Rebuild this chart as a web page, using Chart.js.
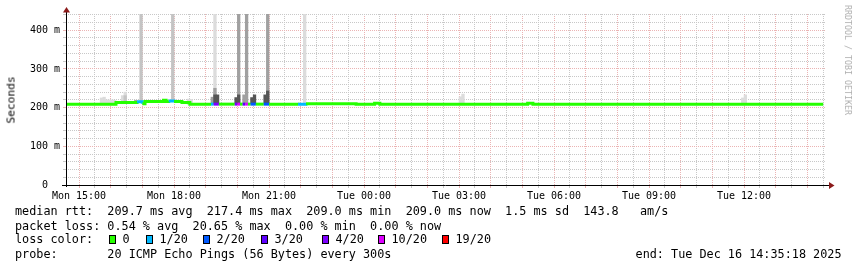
<!DOCTYPE html>
<html><head><meta charset="utf-8"><title>SmokePing latency</title>
<script src="https://cdn.jsdelivr.net/npm/chart.js@4.4.1/dist/chart.umd.min.js"></script>
<style>
html,body{margin:0;padding:0;background:#fff;overflow:hidden}
#wrap{position:relative;width:857px;height:267px;background:#fff}
#c{position:absolute;left:0;top:0}
.mono{position:absolute;font-family:"DejaVu Sans Mono",monospace;white-space:pre;color:#000;line-height:14px;font-size:11.8px}
.sq{position:absolute;top:235px;width:7px;height:9px;box-sizing:border-box;border:1px solid #000}
#ylab{position:absolute;left:11px;top:100px;transform:translate(-50%,-50%) rotate(-90deg);font-family:"DejaVu Sans Mono",monospace;font-size:11.2px;white-space:nowrap;color:#000}
#wm{position:absolute;left:848px;top:60px;transform:translate(-50%,-50%) rotate(90deg);font-family:"DejaVu Sans Mono",monospace;font-size:8.3px;white-space:nowrap;color:#b0b0b0}
</style></head>
<body><div id="wrap"><canvas id="c" width="857" height="267"></canvas>
<div id="ylab">Seconds</div><div id="wm">RRDTOOL / TOBI OETIKER</div>
<div id="legend"></div></div>
<script>
// ---------------- DATA ----------------
// time in minutes since Mon 00:00; one RRD step = 5 min
const startMin = 875.3;   // Mon 14:35:18
const endMin = 2315.3;    // Tue 14:35:18
const stepMin = 5;

const xLabelMinutes = [900, 1080, 1260, 1440, 1620, 1800, 1980, 2160];
const xLabels = ["Mon 15:00", "Mon 18:00", "Mon 21:00", "Tue 00:00", "Tue 03:00", "Tue 06:00", "Tue 09:00", "Tue 12:00"];
const yLabelValues = [0, 100, 200, 300, 400];
const yLabels = ["0  ", "100 m", "200 m", "300 m", "400 m"];
const yMax = 442;

// median RTT (ms) per run of steps: start minute, value, lost pings (of 20)
const medianStart = [875, 970, 1010, 1020, 1025, 1060, 1065, 1070, 1080, 1095, 1110, 1150, 1155, 1165, 1195, 1200, 1205, 1210, 1215, 1220, 1225, 1235, 1250, 1260, 1315, 1330, 1425, 1460, 1470, 1750, 1760, 2310];
const medianMs    = [209, 213, 215, 210, 216, 219, 216, 217, 216, 213, 209, 209, 209, 209, 209, 209, 209, 209, 209, 209, 209, 209, 209, 209, 208.5, 210, 209, 211, 209, 211, 209, 209];
const medianLoss  = [0, 0, 1, 0, 0, 0, 0, 1, 0, 0, 0, 1, 4, 0, 4, 10, 0, 3, 10, 0, 2, 0, 2, 0, 1, 0, 0, 0, 0, 0, 0, 0];

// smoke (ping spread) per step, by shade
const lightT  = [940, 945, 950, 955, 960, 965, 980, 985, 1105, 1110, 1155, 1325, 1620, 1625, 2155, 2160];
const lightLo = [207, 207, 207, 207, 207, 207, 210, 210, 208, 208, 209, 207, 208, 208, 208, 208];
const lightHi = [225, 227, 220, 220, 220, 219, 231, 240, 222, 221, 442, 442, 228, 235, 225, 233];

const paleT  = [985, 1015, 1075];
const paleLo = [211, 213, 215];
const paleHi = [231, 442, 442];

const midT  = [1005, 1150, 1155, 1200, 1210, 1215, 1255];
const midLo = [211, 209, 209, 209, 209, 209, 209];
const midHi = [219, 227, 250, 442, 233, 442, 442];

const darkT  = [1155, 1160, 1195, 1200, 1225, 1230, 1250, 1255];
const darkLo = [209, 209, 209, 209, 209, 209, 209, 209];
const darkHi = [233, 233, 226, 233, 226, 233, 233, 243];

const lossLevels = [0, 1, 2, 3, 4, 10, 19];
const lossColors = ["#26ff00", "#00b8ff", "#0059ff", "#5e00ff", "#7e00ff", "#dd00ff", "#ff0000"];
const lossLabels = ["0", "1/20", "2/20", "3/20", "4/20", "10/20", "19/20"];

const rttStats  = ["209.7 ms avg", "217.4 ms max", "209.0 ms min", "209.0 ms now", "1.5 ms sd", "143.8   am/s"];
const lossStats = ["0.54 % avg", "20.65 % max", "0.00 % min", "0.00 % now"];
const probeText = "20 ICMP Echo Pings (56 Bytes) every 300s";
const endText   = "end: Tue Dec 16 14:35:18 2025";

// ---------------- LAYOUT / STYLE ----------------
const plotLeft = 66, plotRight = 826, plotTop = 14, plotBottom = 185;
const W = 857, H = 267;
const barPx = stepMin * (plotRight - plotLeft) / (endMin - startMin);
const minorGrid = "#c8c8c8", majorGrid = "#ebb4b4";
const lossLegendLeft = [109, 146, 203, 261, 322, 378, 442];

function lossColor(n) {
  let idx = 0;
  for (let i = 0; i < lossLevels.length; i++) if (n >= lossLevels[i]) idx = i;
  return lossColors[idx];
}

// legend (HTML text)
const lg = document.getElementById('legend');
function addText(txt, left, top) {
  const d = document.createElement('div');
  d.className = 'mono'; d.textContent = txt;
  d.style.left = left + 'px'; d.style.top = top + 'px';
  lg.appendChild(d); return d;
}
addText("median rtt:  " + rttStats.join("  "), 15, 204);
addText("packet loss: " + lossStats.join("  "), 15, 219);
addText("loss color:", 15, 232);
lossLabels.forEach((lab, i) => {
  const s = document.createElement('div');
  s.className = 'sq'; s.style.left = lossLegendLeft[i] + 'px'; s.style.background = lossColors[i];
  lg.appendChild(s);
  addText(lab, lossLegendLeft[i] + 13.5, 232);
});
addText("probe:       " + probeText, 15, 247);
const e = addText(endText, 0, 247); e.style.left = 'auto'; e.style.right = '15.5px';

// grid positions
const xGrid = []; for (let m = 900; m <= 2310; m += 30) xGrid.push(m);
const yGrid = []; for (let v = 0; v <= 440; v += 20) yGrid.push(v);

const toBars = (T, lo, hi) => T.map((t, i) => ({x: t + stepMin / 2, y: [lo[i], hi[i]]}));
const barDs = (label, T, lo, hi, color, order) => ({
  type: 'bar', label, data: toBars(T, lo, hi), backgroundColor: color,
  borderWidth: 0, barThickness: barPx, grouped: false, order
});

const axisPlugin = {
  id: 'rrdAxes',
  afterDraw(chart) {
    const {ctx, chartArea: a} = chart;
    ctx.save();
    ctx.strokeStyle = '#000'; ctx.lineWidth = 1;
    ctx.beginPath();
    ctx.moveTo(a.left - 4, a.bottom + 0.5); ctx.lineTo(a.right + 3, a.bottom + 0.5);
    ctx.moveTo(a.left + 0.5, a.bottom + 2); ctx.lineTo(a.left + 0.5, a.top - 2);
    ctx.stroke();
    ctx.fillStyle = '#8b1a1a';
    ctx.beginPath();
    ctx.moveTo(a.left - 3, a.top - 1.5); ctx.lineTo(a.left + 4, a.top - 1.5); ctx.lineTo(a.left + 0.5, a.top - 7); ctx.closePath(); ctx.fill();
    ctx.beginPath();
    ctx.moveTo(a.right + 3, a.bottom - 3); ctx.lineTo(a.right + 3, a.bottom + 4); ctx.lineTo(a.right + 8.5, a.bottom + 0.5); ctx.closePath(); ctx.fill();
    ctx.restore();
  }
};

new Chart(document.getElementById('c'), {
  type: 'bar',
  data: {
    datasets: [
      {
        type: 'line', label: 'median',
        data: medianStart.map((t, i) => ({x: t, y: medianMs[i]})),
        stepped: true, borderWidth: 3, pointRadius: 0, fill: false, tension: 0,
        borderColor: lossColors[0], borderCapStyle: 'butt',
        segment: {borderColor: c => lossColor(medianLoss[c.p0DataIndex])},
        order: 0
      },
      barDs('dark', darkT, darkLo, darkHi, '#555555', 1),
      barDs('mid', midT, midLo, midHi, '#a0a0a0', 2),
      barDs('pale', paleT, paleLo, paleHi, '#c4c4c4', 3),
      barDs('light', lightT, lightLo, lightHi, '#dcdcdc', 4)
    ]
  },
  options: {
    responsive: false, animation: false, devicePixelRatio: 1,
    layout: {padding: {top: plotTop, right: W - plotRight, left: 0, bottom: 0}},
    plugins: {legend: {display: false}, tooltip: {enabled: false}},
    scales: {
      x: {
        type: 'linear', min: startMin, max: endMin, offset: false,
        afterBuildTicks: s => { s.ticks = xGrid.map(v => ({value: v})); },
        afterFit: s => { s.height = H - plotBottom; },
        ticks: {
          autoSkip: false, maxRotation: 0, minRotation: 0, padding: 2, color: '#000',
          font: {family: "'DejaVu Sans Mono'", size: 10},
          callback: v => { const i = xLabelMinutes.indexOf(v); return i >= 0 ? xLabels[i] : ''; }
        },
        grid: {
          offset: false, lineWidth: 1, drawTicks: true, tickLength: 3,
          color: c => (c.tick && c.tick.value % 60 === 0) ? majorGrid : minorGrid
        },
        border: {display: false, dash: [1, 1]}
      },
      y: {
        min: 0, max: yMax,
        afterBuildTicks: s => { s.ticks = yGrid.map(v => ({value: v})); },
        afterFit: s => { s.width = plotLeft; },
        ticks: {
          autoSkip: false, padding: 3, color: '#000', font: {family: "'DejaVu Sans Mono'", size: 10},
          callback: v => { const i = yLabelValues.indexOf(v); return i >= 0 ? yLabels[i] : ''; }
        },
        grid: {
          lineWidth: 1, drawTicks: true, tickLength: 3,
          color: c => (c.tick && c.tick.value % 100 === 0) ? majorGrid : minorGrid
        },
        border: {display: false, dash: [1, 1]}
      }
    }
  },
  plugins: [axisPlugin]
});
</script>
</body></html>
